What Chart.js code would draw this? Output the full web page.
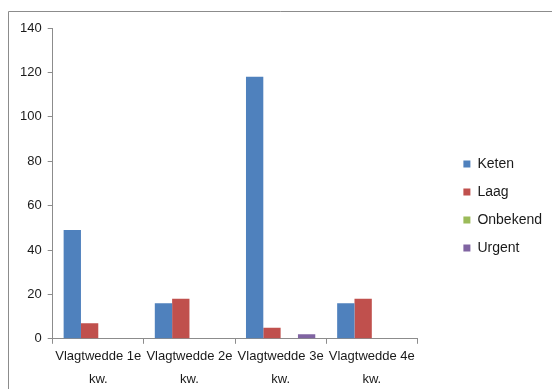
<!DOCTYPE html>
<html>
<head>
<meta charset="utf-8">
<script src="https://cdn.jsdelivr.net/npm/chart.js@4/dist/chart.umd.min.js"></script>
<style>
  html, body { margin: 0; padding: 0; background: #fff; }
  #wrap { width: 552px; height: 389px; position: relative; }
</style>
</head>
<body>
<div id="wrap"><canvas id="myChart" width="552" height="389"></canvas></div>
<script>
labels = [["Vlagtwedde 1e", "kw."], ["Vlagtwedde 2e", "kw."], ["Vlagtwedde 3e", "kw."], ["Vlagtwedde 4e", "kw."]];
keten = [49, 16, 118, 16];
laag = [7, 18, 5, 18];
onbekend = [0, 0, 0, 0];
urgent = [0, 0, 2, 0];
yTicks = [0, 20, 40, 60, 80, 100, 120, 140];

// frame line along top and left of the chart block
const frame = {
  id: 'frame',
  beforeDraw(chart) {
    const c = chart.ctx;
    c.save();
    c.strokeStyle = '#8c8c8c';
    c.lineWidth = 1;
    c.beginPath();
    c.moveTo(8.5, 389);
    c.lineTo(8.5, 11.5);
    c.lineTo(552, 11.5);
    c.stroke();
    c.restore();
  }
};

// nudge the legend right and up, leaving the plot area where it is
const legendShift = {
  id: 'legendShift',
  afterLayout(chart) {
    const lg = chart.legend;
    lg.left += 32;
    lg.right += 32;
    lg.top -= 4;
    lg.bottom -= 4;
  }
};

const font = { family: "'Liberation Sans', Arial, sans-serif", size: 13 };

function makeChart(){
  const ctx = document.getElementById('myChart');
  new Chart(ctx, {
    type: 'bar',
    data: {
      labels: labels,
      datasets: [
        { label: 'Keten', data: keten, backgroundColor: '#4F81BD' },
        { label: 'Laag', data: laag, backgroundColor: '#C0504D' },
        { label: 'Onbekend', data: onbekend, backgroundColor: '#9BBB59' },
        { label: 'Urgent', data: urgent, backgroundColor: '#8064A2' }
      ]
    },
    plugins: [frame, legendShift],
    options: {
      responsive: false,
      animation: false,
      datasets: { bar: { categoryPercentage: 0.76, barPercentage: 1 } },
      layout: { padding: { left: 14, top: 28, right: 32, bottom: -3 } },
      scales: {
        x: {
          grid: { drawOnChartArea: false, color: '#8c8c8c', tickLength: 5, offset: true },
          border: { color: '#8c8c8c' },
          ticks: { color: '#1a1a1a', font: { ...font, lineHeight: 1.7 }, maxRotation: 0, padding: 2 }
        },
        y: {
          min: 0,
          max: 140,
          afterBuildTicks(axis) { axis.ticks = yTicks.map(v => ({ value: v })); },
          grid: { drawOnChartArea: false, color: '#8c8c8c', tickLength: 5 },
          border: { color: '#8c8c8c' },
          ticks: { color: '#1a1a1a', font: font, padding: 6 }
        }
      },
      plugins: {
        tooltip: { enabled: false },
        legend: {
          position: 'right',
          align: 'center',
          labels: {
            color: '#1a1a1a',
            font: { ...font, size: 14 },
            boxWidth: 7,
            boxHeight: 7,
            padding: 14
          }
        }
      }
    }
  });
}

makeChart();
</script>
</body>
</html>
